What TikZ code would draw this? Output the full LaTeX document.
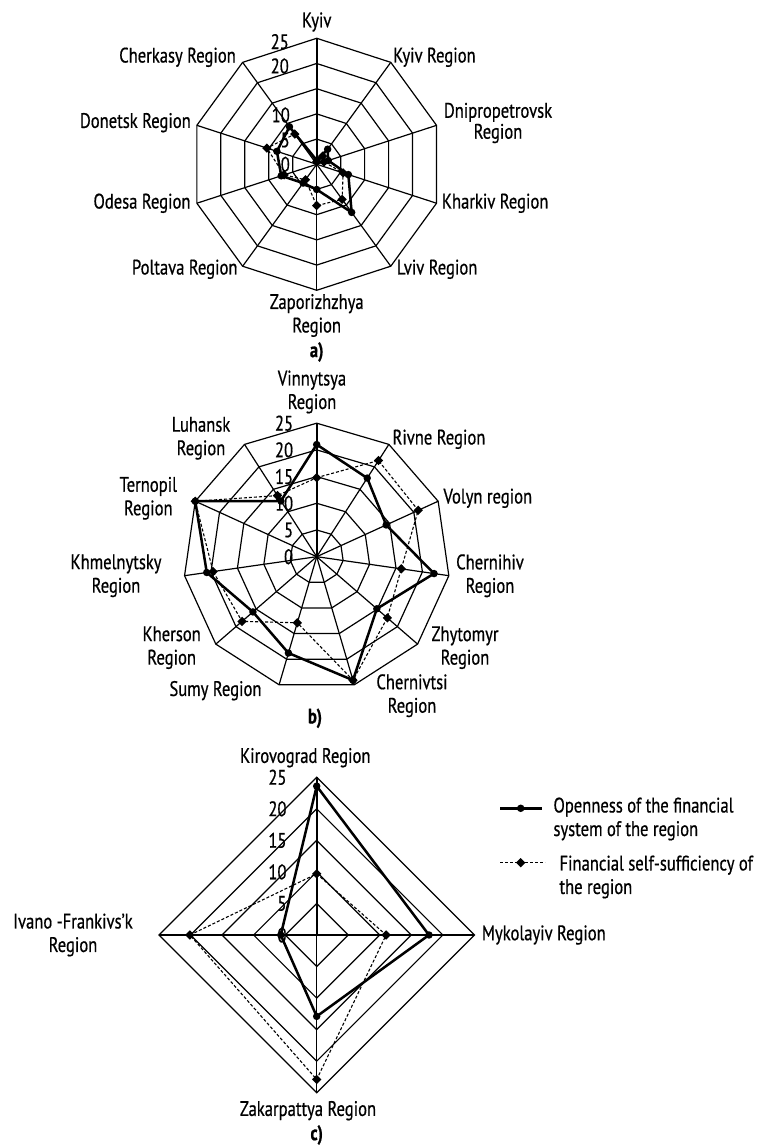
\documentclass[tikz,border=0pt]{standalone}
\usepackage{fontspec}
\setmainfont{PT Sans}[FakeStretch=0.79, FakeBold=0.6]
\usetikzlibrary{shapes.geometric}
\begin{document}
\begin{tikzpicture}[x=1pt,y=1pt,
  gridline/.style={line width=1.2pt, line join=miter},
  valaxis/.style={line width=1.9pt},
  openness/.style={line width=2.5pt, line join=round},
  selfsuff/.style={line width=1.1pt, dash pattern=on 3pt off 2pt},
  dotmark/.style={circle, fill=black, inner sep=0pt, minimum size=7.5pt},
  diamark/.style={diamond, fill=black, inner sep=0pt, minimum size=9.5pt},
  lbl/.style={font=\fontsize{21}{23.5}\selectfont, inner sep=0pt, align=center},
  tick/.style={font=\fontsize{21}{23.5}\selectfont, inner sep=0pt, anchor=east},
  caption/.style={font=\fontsize{21}{23.5}\selectfont\bfseries, inner sep=0pt},
]
\useasboundingbox (0,0) rectangle (765,1145);

% ---------------- chart a): ten regions ----------------
\begin{scope}[shift={(316.7,980.7)}]
  \foreach \k in {1,...,5}
    \draw[gridline] (90:{\k*25.2}) \foreach \i in {1,...,9} { -- ({90-\i*36}:{\k*25.2}) } -- cycle;
  \foreach \i in {1,...,9} \draw[gridline] (0,0) -- ({90-\i*36}:126);
  \draw[valaxis] (0,0) -- (90:126);
  \foreach \v [count=\i] in {0.8,3.7,2.4,6.6,11.8,5.0,4.6,7.4,8.3,9.2}
    \coordinate (a-s-\i) at ({90-(\i-1)*36}:{\v*5.04});
  \foreach \v [count=\i] in {0.5,2.0,1.5,5.5,8.6,8.2,3.8,6.8,10.4,7.4}
    \coordinate (a-d-\i) at ({90-(\i-1)*36}:{\v*5.04});
\end{scope}
\draw[selfsuff] (a-d-1) \foreach \i in {2,...,10} { -- (a-d-\i) } -- cycle;
\draw[openness] (a-s-1) \foreach \i in {2,...,10} { -- (a-s-\i) } -- cycle;
\foreach \i in {1,...,10} {
  \node[diamark] (a-dm-\i) at (a-d-\i) {};
  \node[dotmark] (a-sm-\i) at (a-s-\i) {};
}
\node[tick] (a-t25) at (289,1103.3) {25};
\node[tick] (a-t20) at (289,1079) {20};
\node[tick] (a-t10) at (290,1030) {10};
\node[tick] (a-t5)  at (290,1005) {5};
\node[tick] (a-t0)  at (290,980.7) {0};

\node[lbl] (a-kyiv) at (316.7,1123) {Kyiv};
\node[lbl, anchor=west] (a-kyivr) at (393,1087.7) {Kyiv Region};
\node[lbl, font=\fontsize{21}{21}\selectfont] (a-dnip) at (498,1022) {Dnipropetrovsk\\Region};
\node[lbl, anchor=west] (a-khar) at (441.7,941.7) {Kharkiv Region};
\node[lbl, anchor=west] (a-lviv) at (396.7,875.7) {Lviv Region};
\node[lbl] (a-zap) at (316.7,829.5) {Zaporizhzhya\\Region};
\node[lbl, anchor=east] (a-polt) at (237.7,875.7) {Poltava Region};
\node[lbl, anchor=east] (a-odesa) at (190.7,941.7) {Odesa Region};
\node[lbl, anchor=east] (a-don) at (191,1022.3) {Donetsk Region};
\node[lbl, anchor=east] (a-cher) at (236,1087.7) {Cherkasy Region};
\node[caption] (a-cap) at (316.7,793) {a)};

% ---------------- chart b): eleven regions ----------------
\begin{scope}[shift={(316.7,588.3)}]
  \foreach \k in {1,...,5}
    \draw[gridline] (90:{\k*26.7}) \foreach \i in {1,...,10} { -- ({90-\i*32.7273}:{\k*26.7}) } -- cycle;
  \foreach \i in {1,...,10} \draw[gridline] (0,0) -- ({90-\i*32.7273}:133.5);
  \draw[valaxis] (0,0) -- (90:133.5);
  \foreach \v [count=\i] in {21,17.5,14.3,22.2,14.9,24.1,18.8,15.8,20.8,25,12.4}
    \coordinate (b-s-\i) at ({90-(\i-1)*32.7273}:{\v*5.34});
  \foreach \v [count=\i] in {14.8,21.4,20.9,16.0,17.5,24.1,12.9,18.5,19.6,25,13.6}
    \coordinate (b-d-\i) at ({90-(\i-1)*32.7273}:{\v*5.34});
\end{scope}
\draw[selfsuff] (b-d-1) \foreach \i in {2,...,11} { -- (b-d-\i) } -- cycle;
\draw[openness] (b-s-1) \foreach \i in {2,...,11} { -- (b-s-\i) } -- cycle;
\foreach \i in {1,...,11} {
  \node[diamark] (b-dm-\i) at (b-d-\i) {};
  \node[dotmark] (b-sm-\i) at (b-s-\i) {};
}
\foreach \t [count=\k from 0] in {0,5,10,15,20,25}
  \node[tick] (b-t\t) at (293.3,{588.3+\k*26.7}) {\t};

\node[lbl] (b-vin) at (312,753) {Vinnytsya\\Region};
\node[lbl, anchor=west] (b-riv) at (392.3,705.7) {Rivne Region};
\node[lbl, anchor=west] (b-vol) at (443.3,646.7) {Volyn region};
\node[lbl] (b-chg) at (490,569.2) {Chernihiv\\Region};
\node[lbl] (b-zhy) at (465,497.3) {Zhytomyr\\Region};
\node[lbl] (b-chv) at (412,449.3) {Chernivtsi\\Region};
\node[lbl, anchor=east] (b-sum) at (261.7,454.3) {Sumy Region};
\node[lbl] (b-khe) at (171.7,497.3) {Kherson\\Region};
\node[lbl] (b-khm) at (116,569.2) {Khmelnytsky\\Region};
\node[lbl] (b-ter) at (148.3,646.7) {Ternopil\\Region};
\node[lbl] (b-luh) at (201,706.7) {Luhansk\\Region};
\node[caption] (b-cap) at (315,426.7) {b)};

% ---------------- chart c): four regions ----------------
\begin{scope}[shift={(316.7,210)}]
  \foreach \k in {1,...,5}
    \draw[gridline] (90:{\k*31.54}) -- (0:{\k*31.54}) -- (-90:{\k*31.54}) -- (180:{\k*31.54}) -- cycle;
  \foreach \i in {1,...,3} \draw[gridline] (0,0) -- ({90-\i*90}:157.7);
  \draw[valaxis] (0,0) -- (90:157.7);
  \foreach \v [count=\i] in {23.6,17.8,12.9,5.7}
    \coordinate (c-s-\i) at ({90-(\i-1)*90}:{\v*6.308});
  \foreach \v [count=\i] in {9.7,11.0,22.9,20.1}
    \coordinate (c-d-\i) at ({90-(\i-1)*90}:{\v*6.308});
\end{scope}
\draw[selfsuff] (c-d-1) -- (c-d-2) -- (c-d-3) -- (c-d-4) -- cycle;
\draw[openness] (c-s-1) -- (c-s-2) -- (c-s-3) -- (c-s-4) -- cycle;
\foreach \i in {1,...,4} {
  \node[diamark] (c-dm-\i) at (c-d-\i) {};
  \node[dotmark] (c-sm-\i) at (c-s-\i) {};
}
\foreach \t [count=\k from 0] in {0,5,10,15,20,25}
  \node[tick] (c-t\t) at (286.7,{210+\k*31.54}) {\t};

\node[lbl] (c-kir) at (305.3,387.3) {Kirovograd Region};
\node[lbl, anchor=west] (c-myk) at (481.7,210) {Mykolayiv Region};
\node[lbl] (c-zak) at (308,34.3) {Zakarpattya Region};
\node[lbl] (c-iva) at (73,210) {Ivano -Frankivs’k\\Region};
\node[caption] (c-cap) at (316.7,10) {c)};

% legend
\coordinate (l1-a) at (500,336.7);
\coordinate (l1-b) at (541.7,336.7);
\draw[openness] (l1-a) -- (l1-b);
\node[dotmark] (l1-m) at (520.7,336.7) {};
\node[lbl, align=left, anchor=west] (l1-t) at (553.3,326) {Openness of the financial\\system of the region};
\coordinate (l2-a) at (500,282.3);
\coordinate (l2-b) at (545,282.3);
\draw[selfsuff] (l2-a) -- (l2-b);
\node[diamark] (l2-m) at (520.7,282.3) {};
\node[lbl, align=left, anchor=west] (l2-t) at (559.3,268) {Financial self-sufficiency of\\the region};
\end{tikzpicture}
\end{document}
